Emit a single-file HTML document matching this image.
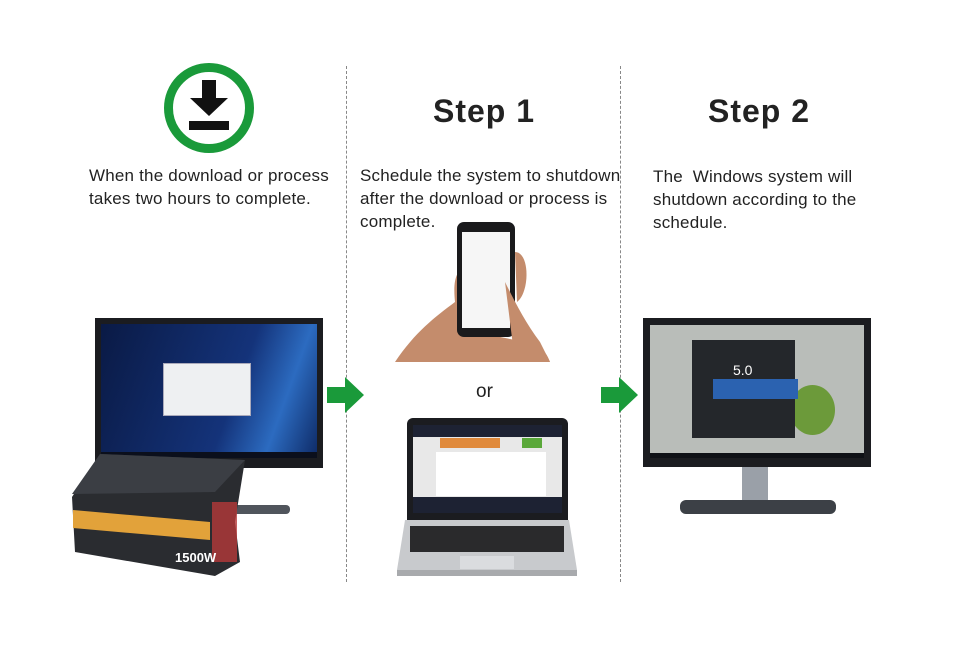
<!DOCTYPE html>
<html><head><style>
*{margin:0;padding:0;box-sizing:border-box}
body{width:960px;height:650px;background:#fff;position:relative;overflow:hidden;font-family:"Liberation Sans",Arial,sans-serif;color:#222}
.a{position:absolute}
.t{font-size:17px;line-height:23px;letter-spacing:0.2px}
.h{font-size:32px;font-weight:bold;letter-spacing:1px}
.dash{position:absolute;width:0;border-left:1.5px dashed #888;top:66px;height:516px}
</style></head><body>
<div class="dash" style="left:346px"></div>
<div class="dash" style="left:620px"></div>

<div class="a" style="left:164px;top:63px;width:90px;height:90px;border:9px solid #1a9a3a;border-radius:50%"></div>
<div class="a" style="left:202px;top:80px;width:14px;height:22px;background:#111"></div>
<svg class="a" style="left:190px;top:98px" width="38" height="22"><polygon points="0,0 38,0 19,18" fill="#111"/></svg>
<div class="a" style="left:189px;top:121px;width:40px;height:9px;background:#111"></div>

<div class="a t" style="left:89px;top:164px">When the download or process<br>takes two hours to complete.</div>
<div class="a h" style="left:433px;top:93px">Step 1</div>
<div class="a h" style="left:708px;top:93px">Step 2</div>
<div class="a t" style="left:360px;top:164px">Schedule the system to shutdown<br>after the download or process is<br>complete.</div>
<div class="a t" style="left:653px;top:165px">The&nbsp; Windows system will<br>shutdown according to the<br>schedule.</div>

<div class="a" style="left:200px;top:462px;width:26px;height:46px;background:#9aa0a8"></div>
<div class="a" style="left:190px;top:505px;width:100px;height:9px;background:#50555c;border-radius:4px"></div>
<div class="a" style="left:95px;top:318px;width:228px;height:150px;background:#1b1c20"></div>
<div class="a" style="left:101px;top:324px;width:216px;height:134px;background:linear-gradient(110deg,#0a1a45,#14337a 60%,#2c6bc0 80%,#0e2a66)"></div>
<div class="a" style="left:163px;top:363px;width:88px;height:53px;background:#eef0f2;border:1px solid #aab"></div>
<div class="a" style="left:101px;top:452px;width:216px;height:6px;background:#0b0f1c"></div>
<svg class="a" style="left:70px;top:452px" width="180" height="126">
<polygon points="30,2 175,8 165,70 170,110 145,124 5,100 2,45" fill="#2a2c30"/>
<polygon points="30,2 175,8 145,40 2,42" fill="#3b3e44"/>
<polygon points="3,58 140,70 140,88 3,76" fill="#e2a23a"/>
<rect x="142" y="50" width="25" height="60" fill="#b53a3a" opacity="0.8"/>
</svg>
<div class="a" style="left:175px;top:550px;color:#fff;font-size:13px;font-weight:bold">1500W</div>

<svg class="a" style="left:327px;top:377px" width="38" height="36"><polygon points="0,10 18,10 18,0 37,18 18,36 18,26 0,26" fill="#1a9a3a"/></svg>
<svg class="a" style="left:601px;top:377px" width="38" height="36"><polygon points="0,10 18,10 18,0 37,18 18,36 18,26 0,26" fill="#1a9a3a"/></svg>

<svg class="a" style="left:395px;top:222px" width="155" height="142">
<path d="M0,140 C20,110 40,95 60,80 C58,60 60,45 75,45 L80,110 L120,118 C135,115 150,125 155,140 Z" fill="#c48c6c"/>
<rect x="62" y="0" width="58" height="115" rx="7" fill="#1a1a1c"/>
<rect x="67" y="10" width="48" height="96" fill="#f6f6f6"/>
<path d="M110,60 C120,80 130,100 145,120 L155,140 L120,140 Z" fill="#c48c6c"/>
<path d="M120,30 C135,30 135,70 122,80 Z" fill="#c48c6c"/>
</svg>
<div class="a" style="left:476px;top:381px;font-size:19px">or</div>

<div class="a" style="left:407px;top:418px;width:161px;height:102px;background:#1b1c20;border-radius:6px 6px 0 0"></div>
<div class="a" style="left:413px;top:425px;width:149px;height:88px;background:#1d2233"></div>
<div class="a" style="left:413px;top:437px;width:149px;height:60px;background:#e8e8e8"></div>
<div class="a" style="left:440px;top:438px;width:60px;height:10px;background:#e08a3c"></div>
<div class="a" style="left:522px;top:438px;width:20px;height:10px;background:#5aa83a"></div>
<div class="a" style="left:436px;top:452px;width:110px;height:44px;background:#fff"></div>
<svg class="a" style="left:395px;top:518px" width="184" height="60">
<polygon points="10,2 174,2 182,52 2,52" fill="#c8cacd"/>
<rect x="15" y="8" width="154" height="26" fill="#2a2a2c"/>
<rect x="65" y="38" width="54" height="13" fill="#dadcdf"/>
<rect x="2" y="52" width="180" height="6" fill="#a8aaad"/>
</svg>

<div class="a" style="left:742px;top:462px;width:26px;height:42px;background:#9aa0a8"></div>
<div class="a" style="left:680px;top:500px;width:156px;height:14px;background:#3c4046;border-radius:6px"></div>
<div class="a" style="left:643px;top:318px;width:228px;height:149px;background:#1b1c20"></div>
<div class="a" style="left:650px;top:325px;width:214px;height:128px;background:#b9bdb9"></div>
<div class="a" style="left:790px;top:385px;width:45px;height:50px;background:#6c9a3a;border-radius:50%"></div>
<div class="a" style="left:692px;top:340px;width:103px;height:98px;background:#24272b"></div>
<div class="a" style="left:733px;top:362px;color:#fff;font-size:14px">5.0</div>
<div class="a" style="left:713px;top:379px;width:85px;height:20px;background:#2b62b0"></div>
<div class="a" style="left:650px;top:453px;width:214px;height:5px;background:#0f1116"></div>
</body></html>
